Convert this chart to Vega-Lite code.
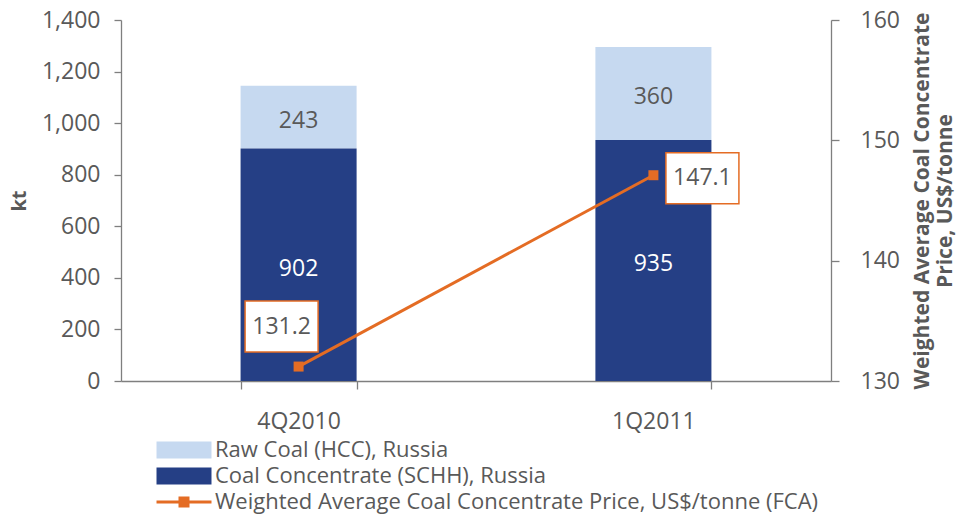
{
  "$schema": "https://vega.github.io/schema/vega-lite/v6.json",
  "width": 710,
  "height": 361,
  "autosize": {"type": "none"},
  "padding": {"left": 121, "top": 20, "right": 129, "bottom": 135},
  "background": "white",
  "config": {
    "font": "Open Sans",
    "view": {"stroke": null},
    "axis": {
      "grid": false,
      "domainColor": "#7F7F7F",
      "tickColor": "#7F7F7F",
      "domainWidth": 1.3,
      "tickWidth": 1.3,
      "labelColor": "#595959",
      "titleColor": "#595959",
      "labelFont": "Open Sans",
      "titleFont": "Open Sans",
      "labelFontSize": 23,
      "labelFontWeight": "normal",
      "titleFontSize": 20,
      "titleFontWeight": "bold"
    },
    "legend": {"labelFont": "Open Sans", "labelFontSize": 22, "labelColor": "#595959", "padding": 0, "labelLimit": 900}
  },
  "datasets": {
    "volumes": [
      {"quarter": "4Q2010", "series": "Raw Coal (HCC), Russia", "kt": 243},
      {"quarter": "4Q2010", "series": "Coal Concentrate (SCHH), Russia", "kt": 902},
      {"quarter": "1Q2011", "series": "Raw Coal (HCC), Russia", "kt": 360},
      {"quarter": "1Q2011", "series": "Coal Concentrate (SCHH), Russia", "kt": 935}
    ],
    "prices": [
      {"quarter": "4Q2010", "series": "Weighted Average Coal Concentrate Price, US$/tonne (FCA)", "price": 131.2},
      {"quarter": "1Q2011", "series": "Weighted Average Coal Concentrate Price, US$/tonne (FCA)", "price": 147.1}
    ]
  },
  "encoding": {
    "x": {
      "field": "quarter",
      "type": "nominal",
      "sort": ["4Q2010", "1Q2011"],
      "scale": {"paddingInner": 0.673, "paddingOuter": 0.337},
      "axis": {"title": null, "labelAngle": 0, "tickBand": "extent", "tickSize": 8, "labelPadding": 21}
    }
  },
  "layer": [
    {
      "data": {"name": "volumes"},
      "layer": [
        {
          "mark": {"type": "bar"},
          "encoding": {
            "y": {
              "field": "kt",
              "type": "quantitative",
              "stack": "zero",
              "title": "kt",
              "scale": {"domain": [0, 1400]},
              "axis": {"values": [0, 200, 400, 600, 800, 1000, 1200, 1400], "format": ",.0f", "tickSize": 7, "labelPadding": 14, "titlePadding": 12}
            },
            "color": {
              "field": "series",
              "type": "nominal",
              "scale": {"domain": ["Raw Coal (HCC), Russia", "Coal Concentrate (SCHH), Russia"], "range": ["#C6D9F0", "#253F85"]},
              "legend": {
                "orient": "none",
                "legendX": 52,
                "legendY": 419,
                "title": null,
                "symbolType": "M-3,-0.93H3V0.93H-3Z",
                "symbolSize": 336,
                "symbolStrokeWidth": 0,
                "labelOffset": 20,
                "rowPadding": 4
              }
            },
            "order": {"field": "series", "sort": "ascending"}
          }
        },
        {
          "transform": [
            {"stack": "kt", "groupby": ["quarter"], "sort": [{"field": "series", "order": "ascending"}], "as": ["kt0", "kt1"]},
            {"calculate": "(datum.kt0 + datum.kt1) / 2", "as": "mid"}
          ],
          "mark": {"type": "text", "fontSize": 23, "font": "Open Sans", "dy": 4},
          "encoding": {
            "y": {"field": "mid", "type": "quantitative", "title": "kt"},
            "text": {"field": "kt", "type": "quantitative"},
            "color": {"condition": {"test": "datum.series === 'Raw Coal (HCC), Russia'", "value": "#595959"}, "value": "#FFFFFF"}
          }
        }
      ]
    },
    {
      "data": {"name": "prices"},
      "layer": [
        {
          "mark": {"type": "line", "strokeWidth": 3},
          "encoding": {
            "y": {
              "field": "price",
              "type": "quantitative",
              "title": ["Weighted Average Coal Concentrate", "Price, US$/tonne"],
              "scale": {"domain": [130, 160]},
              "axis": {"orient": "right", "values": [130, 140, 150, 160], "tickSize": 8, "labelPadding": 21, "titleAngle": 270, "titlePadding": 10, "titleFontSize": 21}
            },
            "stroke": {
              "field": "series",
              "type": "nominal",
              "scale": {"range": ["#E46C24"]},
              "legend": {
                "orient": "none",
                "legendX": 52,
                "legendY": 471,
                "title": null,
                "symbolType": "M-3,-0.16H3V0.16H-3Z M-0.6,-0.6H0.6V0.6H-0.6Z",
                "symbolSize": 336,
                "labelOffset": 20,
                "encode": {"symbols": {"update": {"fill": {"value": "#E46C24"}, "strokeWidth": {"value": 0}}}}
              }
            }
          }
        },
        {
          "mark": {"type": "point", "shape": "square", "filled": true, "size": 100, "color": "#E46C24", "opacity": 1},
          "encoding": {"y": {"field": "price", "type": "quantitative", "title": ["Weighted Average Coal Concentrate", "Price, US$/tonne"]}}
        },
        {
          "transform": [{"filter": "datum.quarter === '4Q2010'"}],
          "mark": {"type": "point", "shape": "M-1,-0.7H1V0.7H-1Z", "size": 5329, "filled": true, "fill": "#FFFFFF", "stroke": "#E46C24", "strokeWidth": 1.5, "opacity": 1, "xOffset": -17, "yOffset": -40},
          "encoding": {"y": {"field": "price", "type": "quantitative", "title": ["Weighted Average Coal Concentrate", "Price, US$/tonne"]}}
        },
        {
          "transform": [{"filter": "datum.quarter === '4Q2010'"}],
          "mark": {"type": "text", "fontSize": 23, "font": "Open Sans", "color": "#595959", "xOffset": -17, "yOffset": -40},
          "encoding": {
            "y": {"field": "price", "type": "quantitative", "title": ["Weighted Average Coal Concentrate", "Price, US$/tonne"]},
            "text": {"field": "price", "type": "quantitative", "format": ".1f"}
          }
        },
        {
          "transform": [{"filter": "datum.quarter === '1Q2011'"}],
          "mark": {"type": "point", "shape": "M-1,-0.7H1V0.7H-1Z", "size": 5329, "filled": true, "fill": "#FFFFFF", "stroke": "#E46C24", "strokeWidth": 1.5, "opacity": 1, "xOffset": 49, "yOffset": 3},
          "encoding": {"y": {"field": "price", "type": "quantitative", "title": ["Weighted Average Coal Concentrate", "Price, US$/tonne"]}}
        },
        {
          "transform": [{"filter": "datum.quarter === '1Q2011'"}],
          "mark": {"type": "text", "fontSize": 23, "font": "Open Sans", "color": "#595959", "xOffset": 49, "yOffset": 3},
          "encoding": {
            "y": {"field": "price", "type": "quantitative", "title": ["Weighted Average Coal Concentrate", "Price, US$/tonne"]},
            "text": {"field": "price", "type": "quantitative", "format": ".1f"}
          }
        }
      ]
    }
  ],
  "resolve": {"scale": {"y": "independent"}}
}
